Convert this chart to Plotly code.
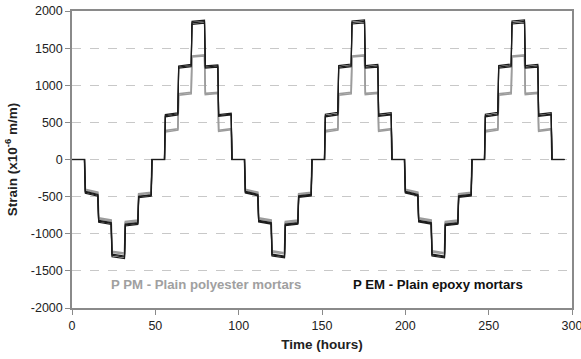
import plotly.graph_objects as go

# Plateau start times (hours) and end of record
plateau_start = [0, 7.5, 15.5, 23.5, 31.5, 39.5, 47.5, 55.5, 63.5, 71.5, 79.5, 87.5,
                 95.5, 103.5, 111.5, 119.5, 127.5, 135.5, 143.5, 151.5, 159.5, 167.5, 175.5, 183.5,
                 191.5, 199.5, 207.5, 215.5, 223.5, 231.5, 239.5, 247.5, 255.5, 263.5, 271.5, 279.5,
                 287.5]
end_time = 295.5

# Strain drift within each plateau (x10^-6 m/m)
creep = [0, -40, -30, -25, 20, 20, 0, 25, 20, 15, 15, 20,
         0, -40, -30, -25, 20, 20, 0, 25, 20, 15, 15, 20,
         0, -40, -30, -25, 20, 20, 0, 25, 20, 15, 15, 20,
         0]

# Plain epoxy mortars (black)
pem_1 = [0, -495, -875, -1335, -875, -495, 0, 630, 1280, 1875, 1275, 625,
         0, -490, -870, -1325, -870, -490, 0, 635, 1285, 1880, 1280, 630,
         0, -490, -870, -1325, -870, -490, 0, 635, 1285, 1880, 1280, 630,
         0]
pem_2 = [0, -480, -860, -1315, -860, -480, 0, 615, 1265, 1855, 1260, 610,
         0, -480, -860, -1310, -860, -480, 0, 615, 1265, 1860, 1260, 610,
         0, -480, -860, -1310, -860, -480, 0, 615, 1265, 1860, 1260, 610,
         0]
pem_3 = [0, -470, -850, -1300, -850, -475, 0, 600, 1250, 1835, 1245, 600,
         0, -470, -850, -1300, -850, -470, 0, 600, 1250, 1840, 1245, 600,
         0, -470, -850, -1300, -850, -470, 0, 600, 1250, 1840, 1245, 600,
         0]

# Plain polyester mortars (grey)
ppm_1 = [0, -440, -815, -1260, -815, -440, 0, 395, 885, 1395, 890, 400,
         0, -440, -815, -1255, -815, -440, 0, 395, 885, 1395, 890, 400,
         0, -440, -815, -1255, -815, -440, 0, 395, 885, 1395, 890, 400,
         0]
ppm_2 = [0, -455, -830, -1275, -830, -455, 0, 415, 905, 1410, 905, 415,
         0, -455, -830, -1270, -830, -455, 0, 415, 905, 1410, 905, 415,
         0, -455, -830, -1270, -830, -455, 0, 415, 905, 1410, 905, 415,
         0]

x_ticks = [0, 50, 100, 150, 200, 250, 300]
y_ticks = [-2000, -1500, -1000, -500, 0, 500, 1000, 1500, 2000]

RAMP = 0.5


def build(levels):
    xs, ys = [], []
    for i, lvl in enumerate(levels):
        t0 = plateau_start[i]
        t1 = plateau_start[i + 1] if i + 1 < len(plateau_start) else end_time
        xs += [t0 + (RAMP if i > 0 else 0), t1]
        ys += [lvl - creep[i], lvl]
    return xs, ys


fig = go.Figure()
grey = "#9c9c9c"
black = "#1c1c1c"
for s in [ppm_1, ppm_2]:
    x, y = build(s)
    fig.add_trace(go.Scatter(x=x, y=y, mode="lines", line=dict(color=grey, width=1.6),
                             showlegend=False, hoverinfo="skip"))
for s in [pem_1, pem_2, pem_3]:
    x, y = build(s)
    fig.add_trace(go.Scatter(x=x, y=y, mode="lines", line=dict(color=black, width=1.2),
                             showlegend=False, hoverinfo="skip"))

fig.add_annotation(x=80.5, y=-1690, text="<b>P PM - Plain polyester mortars</b>", showarrow=False,
                   font=dict(family="Liberation Sans, Arial, sans-serif", size=13.2, color="#a0a0a0"))
fig.add_annotation(x=219.3, y=-1690, text="<b>P EM - Plain epoxy mortars</b>", showarrow=False,
                   font=dict(family="Liberation Sans, Arial, sans-serif", size=13.2, color="#111111"))

fig.update_layout(
    width=581, height=359,
    margin=dict(l=72, r=9, t=11, b=51),
    paper_bgcolor="white", plot_bgcolor="white",
    font=dict(family="Liberation Sans, Arial, sans-serif", size=12.5, color="#222222"),
)
fig.update_xaxes(
    range=[0, 300], tickvals=x_ticks, ticktext=[str(v) for v in x_ticks],
    showgrid=False, zeroline=False, automargin=False, ticklabeloverflow="allow",
    showline=True, linecolor="#8a8a8a", linewidth=1.5, mirror=True,
    ticks="outside", ticklen=5, tickcolor="#8a8a8a",
    title=dict(text="<b>Time (hours)</b>", font=dict(size=13.5), standoff=8),
)
fig.update_yaxes(
    range=[-2000, 2000], tickvals=y_ticks, ticktext=[str(v) for v in y_ticks],
    showgrid=True, gridcolor="#c8c8c8", griddash="dash", gridwidth=1,
    zeroline=False, automargin=False, ticklabeloverflow="allow",
    showline=True, linecolor="#8a8a8a", linewidth=1.5, mirror=True,
    ticks="outside", ticklen=5, tickcolor="#8a8a8a",
    title=dict(text="<b>Strain (x10<sup>-6</sup> m/m)</b>", font=dict(size=13.5), standoff=10),
)

fig.write_html("out.html")
